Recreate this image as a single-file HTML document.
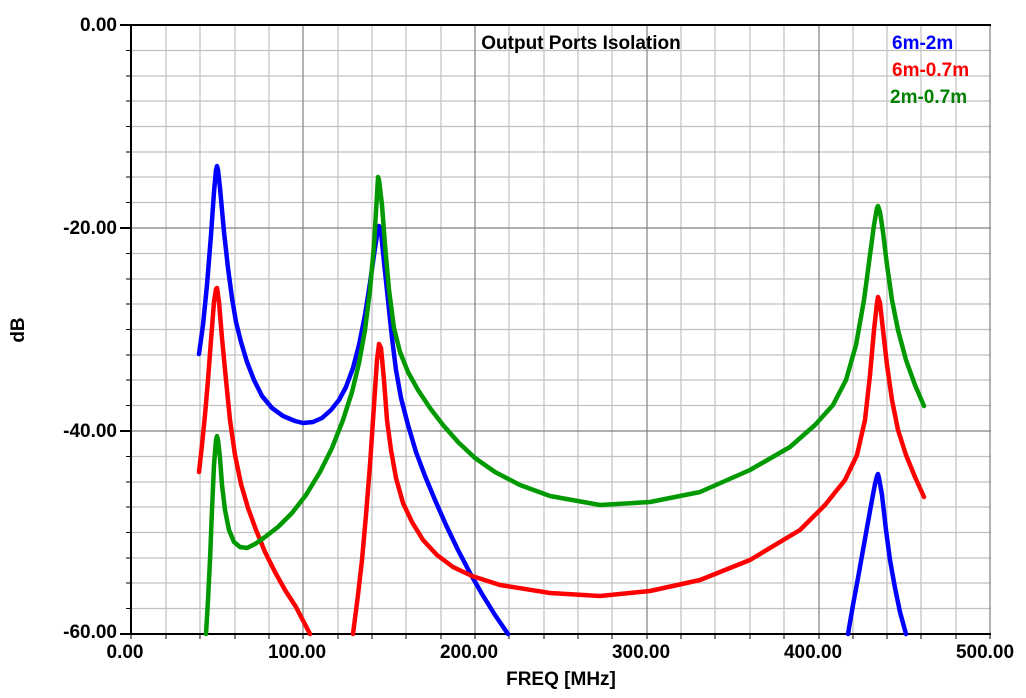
<!DOCTYPE html>
<html><head><style>
html,body{margin:0;padding:0;background:#fff;}
svg text{font-family:"Liberation Sans",Arial,sans-serif;font-weight:bold;}
</style></head><body>
<svg width="1026" height="693" xmlns="http://www.w3.org/2000/svg">
<rect width="1026" height="693" fill="#fff"/>
<g stroke="#c0c0c0" stroke-width="1.2">
<line x1="166" y1="25" x2="166" y2="634"/><line x1="200" y1="25" x2="200" y2="634"/><line x1="235" y1="25" x2="235" y2="634"/><line x1="269" y1="25" x2="269" y2="634"/>
<line x1="338" y1="25" x2="338" y2="634"/><line x1="372" y1="25" x2="372" y2="634"/><line x1="406" y1="25" x2="406" y2="634"/><line x1="441" y1="25" x2="441" y2="634"/>
<line x1="509" y1="25" x2="509" y2="634"/><line x1="544" y1="25" x2="544" y2="634"/><line x1="578" y1="25" x2="578" y2="634"/><line x1="612" y1="25" x2="612" y2="634"/>
<line x1="681" y1="25" x2="681" y2="634"/><line x1="715" y1="25" x2="715" y2="634"/><line x1="750" y1="25" x2="750" y2="634"/><line x1="784" y1="25" x2="784" y2="634"/>
<line x1="853" y1="25" x2="853" y2="634"/><line x1="887" y1="25" x2="887" y2="634"/><line x1="921" y1="25" x2="921" y2="634"/><line x1="956" y1="25" x2="956" y2="634"/>
<line x1="131" y1="50.5" x2="991" y2="50.5"/><line x1="131" y1="76" x2="991" y2="76"/><line x1="131" y1="101" x2="991" y2="101"/><line x1="131" y1="126.5" x2="991" y2="126.5"/>
<line x1="131" y1="152" x2="991" y2="152"/><line x1="131" y1="177" x2="991" y2="177"/><line x1="131" y1="202.5" x2="991" y2="202.5"/>
<line x1="131" y1="253.5" x2="991" y2="253.5"/><line x1="131" y1="279" x2="991" y2="279"/><line x1="131" y1="304" x2="991" y2="304"/><line x1="131" y1="329.5" x2="991" y2="329.5"/>
<line x1="131" y1="355" x2="991" y2="355"/><line x1="131" y1="380" x2="991" y2="380"/><line x1="131" y1="405.5" x2="991" y2="405.5"/>
<line x1="131" y1="456.5" x2="991" y2="456.5"/><line x1="131" y1="482" x2="991" y2="482"/><line x1="131" y1="507" x2="991" y2="507"/><line x1="131" y1="532.5" x2="991" y2="532.5"/>
<line x1="131" y1="558" x2="991" y2="558"/><line x1="131" y1="583" x2="991" y2="583"/><line x1="131" y1="608.5" x2="991" y2="608.5"/>
</g>
<g stroke="#808080" stroke-width="1.2">
<line x1="303" y1="25" x2="303" y2="634"/><line x1="475" y1="25" x2="475" y2="634"/><line x1="647" y1="25" x2="647" y2="634"/><line x1="819" y1="25" x2="819" y2="634"/><line x1="990" y1="25" x2="990" y2="634"/>
<line x1="131" y1="228" x2="991" y2="228"/><line x1="131" y1="431" x2="991" y2="431"/>
</g>
<g stroke="#000" stroke-width="2">
<line x1="120" y1="25" x2="991" y2="25"/><line x1="131" y1="25" x2="131" y2="634"/><line x1="120" y1="634" x2="991" y2="634"/>
<line x1="120" y1="228" x2="131" y2="228"/><line x1="120" y1="431" x2="131" y2="431"/>
</g>
<g stroke="#000" stroke-width="1">
<path d="M126 50.5h5M126 76h5M126 101h5M126 126.5h5M126 152h5M126 177h5M126 202.5h5M126 253.5h5M126 279h5M126 304h5M126 329.5h5M126 355h5M126 380h5M126 405.5h5M126 456.5h5M126 482h5M126 507h5M126 532.5h5M126 558h5M126 583h5M126 608.5h5"/>
<path d="M131 634v5M166 634v5M200 634v5M235 634v5M269 634v5M303 634v5M338 634v5M372 634v5M406 634v5M441 634v5M475 634v5M509 634v5M544 634v5M578 634v5M612 634v5M647 634v5M681 634v5M715 634v5M750 634v5M784 634v5M819 634v5M853 634v5M887 634v5M921 634v5M956 634v5M990 634v5"/>
</g>
<g fill="none" stroke-width="4.5" stroke-linejoin="round" stroke-linecap="round">
<polyline stroke="#0000ff" points="199,354 203,325 207,285 211,235 214,192 216,170 217,166 218,170 220,188 224,232 228,268 232,298 236,322 241,342 247,362 254,380 262,396 272,408 283,416 295,421 303,423 313,422 322,418 331,410 339,400 346,387 353,368 359,345 365,315 370,283 374,255 377,235 379,226 381,232 384,262 388,300 392,338 396,370 401,398 408,425 416,452 425,476 435,500 446,525 458,550 470,573 482,594 495,615 508,634"/>
<polyline stroke="#0000ff" points="848,634 853,605 858,578 863,550 868,522 872,500 875,484 877,476 878,474 879,478 882,495 886,530 890,560 895,588 900,612 906,634"/>
<polyline stroke="#ff0000" points="199,472 202,445 205,415 208,380 211,340 214,302 216,289 217,288 219,302 222,338 226,380 230,420 235,455 241,484 248,508 256,530 265,552 275,572 285,590 296,607 310,634"/>
<polyline stroke="#ff0000" points="353,634 358,595 362,560 366,515 370,465 374,405 377,360 379,344 381,348 384,380 387,420 391,450 396,478 403,503 412,522 423,540 437,555 453,567 472,576 500,585 550,593 600,596 650,591 700,580 750,560 800,530 825,505 845,480 857,455 865,420 870,375 874,330 877,303 878,297 880,303 883,330 887,365 892,400 898,430 906,455 915,477 924,497"/>
<polyline stroke="#009900" points="206,634 208,600 210,560 212,510 214,465 216,440 217,436 218,440 220,458 222,485 225,510 229,530 234,542 240,547 247,548 255,544 265,537 278,527 292,513 306,495 320,472 332,448 343,420 352,392 359,363 365,330 370,290 374,245 377,195 378,177 379,180 382,205 385,245 389,290 394,328 400,352 408,372 418,390 430,408 443,425 458,442 475,458 495,472 520,485 550,496 600,505 650,502 700,492 750,470 790,447 815,425 833,405 846,380 856,345 864,300 870,255 874,225 877,208 878,206 880,212 883,232 887,265 892,300 898,330 906,360 915,385 924,406"/>
</g>
<g font-size="19" text-anchor="end" fill="#000">
<text x="117" y="31">0.00</text><text x="117" y="234">-20.00</text><text x="117" y="437">-40.00</text><text x="117" y="638">-60.00</text>
</g>
<g font-size="19" text-anchor="middle" fill="#000">
<text x="125" y="658">0.00</text><text x="297" y="658">100.00</text><text x="469" y="658">200.00</text><text x="641" y="658">300.00</text><text x="813" y="658">400.00</text><text x="985" y="658">500.00</text>
<text x="561" y="685">FREQ [MHz]</text>
<text x="581" y="49">Output Ports Isolation</text>
</g>
<text x="24" y="330" font-size="19" text-anchor="middle" transform="rotate(-90 24 330)">dB</text>
<g font-size="19">
<text x="892" y="49" fill="#0000ff">6m-2m</text>
<text x="892" y="76" fill="#ff0000">6m-0.7m</text>
<text x="890" y="103" fill="#008000">2m-0.7m</text>
</g>
</svg>
</body></html>
